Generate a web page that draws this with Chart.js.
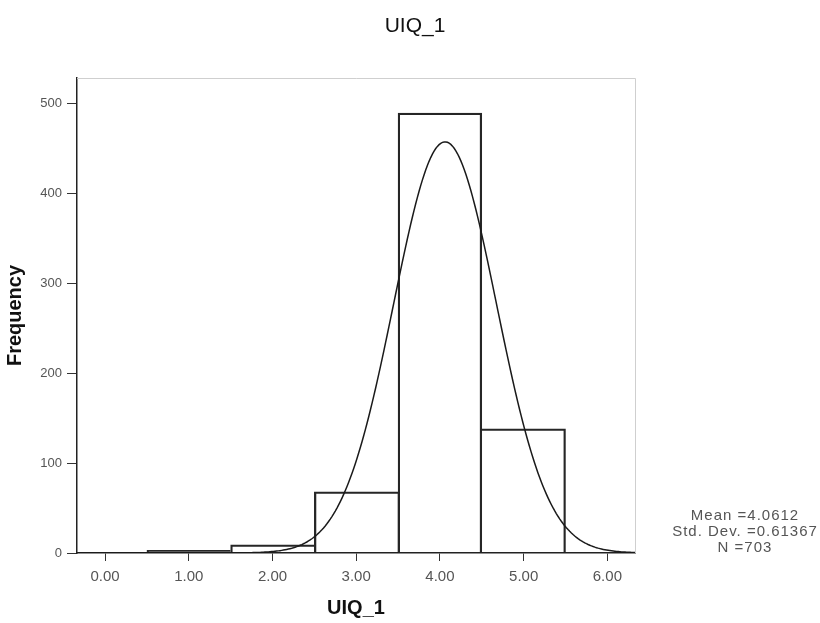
<!DOCTYPE html>
<html lang="en">
<head>
  <meta charset="UTF-8">
  <title>UIQ_1</title>
  <script src="https://cdn.jsdelivr.net/npm/chart.js"></script>
  <style>
    body {
      margin: 0;
      padding: 0;
      background: #ffffff;
    }

    #container {
      width: 820px;
      height: 623px;
      position: relative;
    }
  </style>
</head>
<body>
  <div id="container">
    <canvas id="myChart" width="820" height="623"></canvas>
  </div>

  <script>
    // histogram bins (centers, width 1) and counts
    const binCenters = [1, 2, 3, 4, 5];
    const counts = [3, 9, 68, 489, 138];

    // summary stats shown at the right
    const mean = 4.0612;
    const stdDev = 0.61367;
    const n = 703;

    const xTicks = [0, 1, 2, 3, 4, 5, 6];
    const yTicks = [0, 100, 200, 300, 400, 500];

    // fitted normal curve from the stats above (bin width 1)
    const curve = [];
    for (let x = -0.33; x <= 6.33; x += 0.02) {
      const z = (x - mean) / stdDev;
      curve.push({ x: x, y: n / (stdDev * Math.sqrt(2 * Math.PI)) * Math.exp(-0.5 * z * z) });
    }

    // shared edges between neighbouring bars: draw only the taller bar's side
    const edge = 1.6;
    function barBorder(context) {
      const i = context.dataIndex;
      const h = counts[i];
      const prev = i > 0 ? counts[i - 1] : -1;
      const next = i < counts.length - 1 ? counts[i + 1] : -1;
      return {
        top: edge,
        bottom: 0,
        left: prev < h ? edge : 0,
        right: next <= h ? edge : 0
      };
    }

    const textPlugin = {
      id: 'extraText',
      beforeDatasetsDraw(chart) {
        const { ctx, chartArea } = chart;
        ctx.save();
        ctx.strokeStyle = '#cfcfcf';
        ctx.lineWidth = 1;
        ctx.beginPath();
        ctx.moveTo(chartArea.left, chartArea.top + 0.5);
        ctx.lineTo(chartArea.right + 0.5, chartArea.top + 0.5);
        ctx.lineTo(chartArea.right + 0.5, chartArea.bottom);
        ctx.stroke();
        ctx.restore();
      },
      afterDraw(chart) {
        const ctx = chart.ctx;
        ctx.save();
        ctx.textAlign = 'center';
        ctx.textBaseline = 'middle';
        ctx.fillStyle = '#111';
        ctx.font = '21px "Liberation Sans", Arial, sans-serif';
        ctx.fillText('UIQ_1', 415, 26);

        ctx.fillStyle = '#555';
        ctx.font = '15px "Liberation Sans", Arial, sans-serif';
        ctx.letterSpacing = '1px';
        ctx.fillText('Mean =' + mean.toFixed(4), 745, 516);
        ctx.fillText('Std. Dev. =' + stdDev.toFixed(5), 745, 532);
        ctx.fillText('N =' + n, 745, 548);
        ctx.restore();
      }
    };

    const ctx = document.getElementById('myChart').getContext('2d');
    const myChart = new Chart(ctx, {
      type: 'bar',
      data: {
        datasets: [
          {
            type: 'line',
            data: curve,
            borderColor: '#1a1a1a',
            borderWidth: 1.5,
            pointRadius: 0,
            fill: false,
            tension: 0,
            order: 0
          },
          {
            type: 'bar',
            data: binCenters.map((c, i) => ({ x: c, y: counts[i] })),
            backgroundColor: 'rgba(255, 255, 255, 0)',
            borderColor: '#262626',
            borderWidth: barBorder,
            borderSkipped: false,
            barPercentage: 1,
            categoryPercentage: 1,
            order: 1
          }
        ]
      },
      options: {
        responsive: false,
        animation: false,
        layout: {
          padding: { top: 78, right: 185, left: 0, bottom: 0 }
        },
        plugins: {
          legend: { display: false },
          tooltip: { enabled: false }
        },
        scales: {
          x: {
            type: 'linear',
            min: -0.335,
            max: 6.33,
            offset: false,
            afterBuildTicks: (scale) => {
              scale.ticks = xTicks.map(v => ({ value: v }));
            },
            afterFit: (scale) => {
              scale.height = 70;
            },
            ticks: {
              callback: (v) => Number(v).toFixed(2),
              font: { family: '"Liberation Sans", Arial, sans-serif', size: 15 },
              color: '#555',
              padding: 7,
              maxRotation: 0
            },
            grid: {
              offset: false,
              drawOnChartArea: false,
              drawTicks: true,
              tickLength: 8,
              tickColor: '#333',
              color: '#333'
            },
            border: { color: '#222', width: 1.5 },
            title: {
              display: true,
              text: 'UIQ_1',
              color: '#111',
              font: { family: '"Liberation Sans", Arial, sans-serif', size: 20, weight: 'bold' },
              padding: { top: 0, bottom: 3 }
            }
          },
          y: {
            min: 0,
            max: 528,
            afterBuildTicks: (scale) => {
              scale.ticks = yTicks.map(v => ({ value: v }));
            },
            afterFit: (scale) => {
              scale.width = 77;
            },
            ticks: {
              font: { family: '"Liberation Sans", Arial, sans-serif', size: 13 },
              color: '#555',
              padding: 5
            },
            grid: {
              drawOnChartArea: false,
              drawTicks: true,
              tickLength: 10,
              tickColor: '#333',
              color: '#333'
            },
            border: { color: '#222', width: 1.5 },
            title: {
              display: true,
              text: 'Frequency',
              color: '#111',
              font: { family: '"Liberation Sans", Arial, sans-serif', size: 20, weight: 'bold' },
              padding: { top: 3, bottom: 0 }
            }
          }
        }
      },
      plugins: [textPlugin]
    });
  </script>
</body>
</html>
